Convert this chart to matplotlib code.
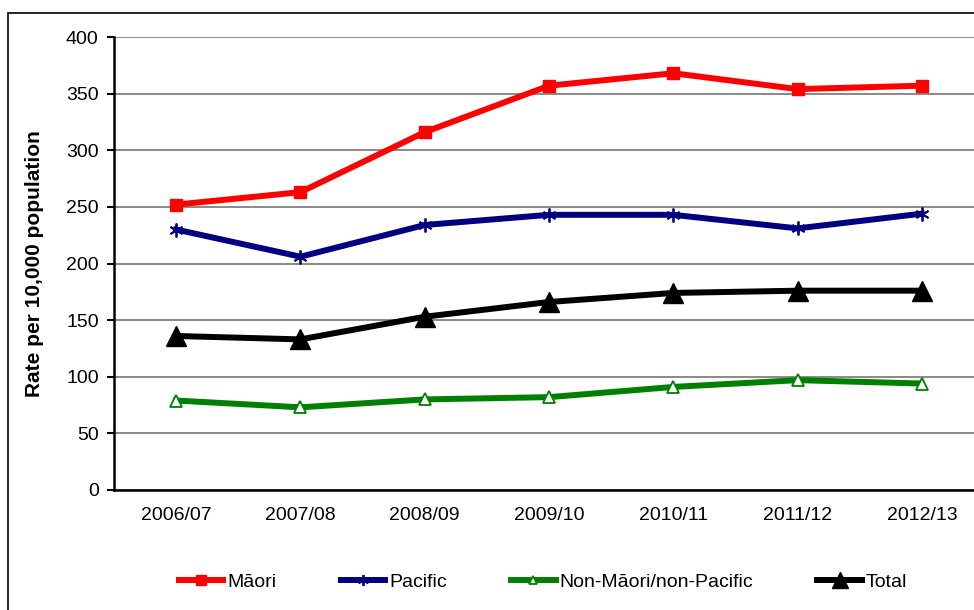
import matplotlib
matplotlib.use("Agg")
import matplotlib.pyplot as plt
from matplotlib.patches import Rectangle

plt.rcParams['font.family'] = ['Liberation Sans', 'DejaVu Sans']

years = ["2006/07", "2007/08", "2008/09", "2009/10", "2010/11", "2011/12", "2012/13"]
maori = [252, 263, 316, 357, 368, 354, 357]
pacific = [230, 206, 234, 243, 243, 231, 244]
non_maori = [79, 73, 80, 82, 91, 97, 94]
total = [136, 133, 153, 166, 174, 176, 176]

W, H = 974, 610
fig = plt.figure(figsize=(W / 100, H / 100), dpi=100)
ax = fig.add_axes([114 / W, 1 - 490 / H, (984 - 114) / W, (490 - 37) / H])

x = list(range(len(years)))
lw = 4.3
ax.plot(x, maori, color='#ff0000', lw=lw, marker='s', ms=9, label='Māori', zorder=3)
ax.plot(x, pacific, color='#000080', lw=lw, marker=(6, 2, 0), ms=10, mew=1.3, label='Pacific', zorder=3)
ax.plot(x, non_maori, color='#008000', lw=lw, marker='^', ms=8, mfc='white', mec='#008000', mew=1.3,
        label='Non-Māori/non-Pacific', zorder=3)
ax.plot(x, total, color='#000000', lw=lw, marker='^', ms=15, label='Total', zorder=3)

ax.set_xlim(-0.5, 6.5)
ax.set_ylim(0, 400)
ax.set_yticks(range(0, 401, 50))
ax.set_xticks(x)
ax.set_xticklabels(years, fontsize=14)
ax.tick_params(axis='y', labelsize=14, length=5, width=1.5, direction='out', pad=6)
ax.tick_params(axis='x', length=0, pad=12)
ax.grid(axis='y', color='#808080', lw=1.3)
ax.set_axisbelow(True)
for s in ['top', 'right']:
    ax.spines[s].set_visible(False)
ax.spines['left'].set_linewidth(1.8)
ax.spines['bottom'].set_linewidth(1.8)

ax.set_ylabel('Rate per 10,000 population', fontsize=15, fontweight='bold')
ax.yaxis.set_label_coords(-70 / 870, 0.5)

fig.legend(loc='center', bbox_to_anchor=(543 / W, 1 - 582 / H), ncol=4, frameon=False,
           fontsize=14, handlelength=2.3, columnspacing=3.3, handletextpad=0.2, markerscale=0.8)

fig.patches.append(Rectangle((8 / W, -0.1), 1.2, 1 - 13 / H + 0.1, transform=fig.transFigure,
                             fill=False, edgecolor='black', lw=1.2, zorder=10))

fig.savefig('out.png', dpi=100)
